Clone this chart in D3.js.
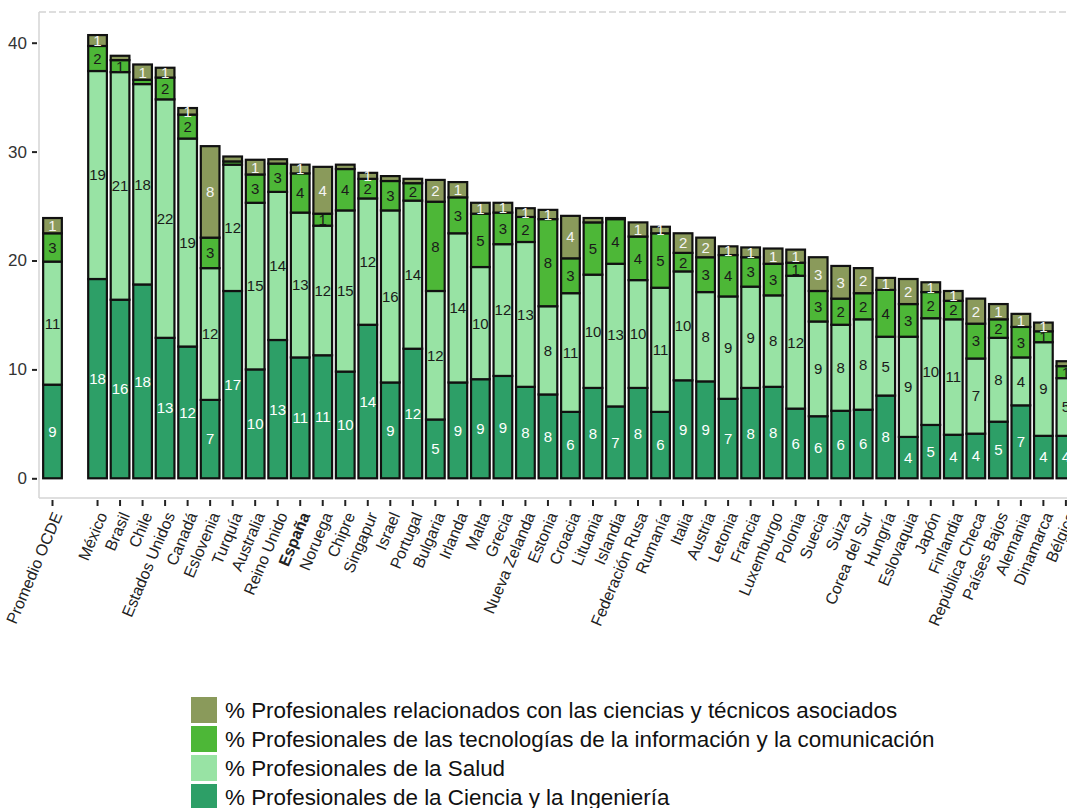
<!DOCTYPE html>
<html><head><meta charset="utf-8">
<script src="https://cdn.jsdelivr.net/npm/d3@7"></script>
<style>
body{margin:0;background:#fff}
svg{display:block}
text{font-family:"Liberation Sans",Arial,Helvetica,sans-serif}
</style>
</head><body>
<svg id="chart" width="1067" height="808"></svg>
<script>
const countries = ["Promedio OCDE","México","Brasil","Chile","Estados Unidos","Canadá","Eslovenia","Turquía","Australia","Reino Unido","España","Noruega","Chipre","Singapur","Israel","Portugal","Bulgaria","Irlanda","Malta","Grecia","Nueva Zelanda","Estonia","Croacia","Lituania","Islandia","Federación Rusa","Rumanía","Italia","Austria","Letonia","Francia","Luxemburgo","Polonia","Suecia","Suiza","Corea del Sur","Hungría","Eslovaquia","Japón","Finlandia","República Checa","Países Bajos","Alemania","Dinamarca","Bélgica"];
const ciencia = [8.6,18.3,16.4,17.8,12.9,12.1,7.2,17.2,10.0,12.7,11.1,11.3,9.8,14.1,8.8,11.9,5.4,8.8,9.1,9.4,8.4,7.7,6.1,8.3,6.6,8.3,6.1,9.0,8.9,7.3,8.3,8.4,6.4,5.7,6.2,6.3,7.6,3.8,4.9,4.0,4.1,5.2,6.7,3.9,3.9];
const salud = [11.3,19.1,20.9,18.4,21.9,19.1,12.1,11.6,15.3,13.6,13.3,11.9,14.8,11.6,15.8,13.6,11.8,13.7,10.3,12.1,13.3,8.1,10.9,10.4,13.1,9.9,11.4,10.0,8.2,9.4,9.3,8.4,12.2,8.7,7.9,8.3,5.4,9.2,9.8,10.6,6.9,7.7,4.4,8.6,5.3];
const tic = [2.6,2.3,1.1,0.4,2.0,2.2,2.8,0.3,2.6,2.6,3.6,1.1,3.8,1.8,2.7,1.6,8.2,3.3,4.9,2.9,2.3,8.0,3.2,4.8,4.1,4.0,5.0,1.7,3.2,3.8,2.7,2.9,1.2,2.8,2.4,2.4,4.3,3.0,2.4,1.7,3.2,1.7,2.8,1.0,1.1];
const relacionados = [1.4,1.0,0.4,1.4,0.9,0.6,8.4,0.45,1.35,0.4,0.8,4.3,0.4,0.55,0.45,0.4,2.0,1.4,1.0,0.9,0.8,0.85,3.9,0.4,0.1,1.3,0.6,1.8,1.8,0.8,0.9,1.4,1.2,3.1,3.0,2.3,1.1,2.3,0.9,0.9,2.3,1.4,1.2,0.8,0.45];
const seriesKeys = ["ciencia","salud","tic","relacionados"];
const seriesLabels = {
  relacionados: "% Profesionales relacionados con las ciencias y técnicos asociados",
  tic: "% Profesionales de las tecnologías de la información y la comunicación",
  salud: "% Profesionales de la Salud",
  ciencia: "% Profesionales de la Ciencia y la Ingeniería"
};
const legendOrder = ["relacionados","tic","salud","ciencia"];
const yTicks = [0,10,20,30,40];
const boldCountry = "España";

const colors = {ciencia:"#2d9f67", salud:"#98e3a4", tic:"#4db737", relacionados:"#8a9a5b"};
const labelColors = {ciencia:"#ffffff", salud:"#1a1a1a", tic:"#1a1a1a", relacionados:"#f4f4f4"};

const rows = countries.map((c,i)=>({country:c, ciencia:ciencia[i], salud:salud[i], tic:tic[i], relacionados:relacionados[i]}));
const gapKey = " ";
const slots = [countries[0], gapKey, ...countries.slice(1)];

const svg = d3.select("#chart");
const step = 22.52;
const x0 = 41.24;
const x = d3.scaleBand().domain(slots).range([x0, x0 + slots.length*step]).paddingInner(0.17).paddingOuter(0.085);
const y = d3.scaleLinear().domain([0,40]).range([478.3,42.7]);

// panel border
const panelL = 39, panelB = 498, panelT = 12;
svg.append("line").attr("x1",panelL).attr("x2",1067).attr("y1",panelT).attr("y2",panelT)
  .attr("stroke","#d4d4d4").attr("stroke-width",1.5).attr("stroke-dasharray","7,3");
svg.append("line").attr("x1",panelL).attr("x2",panelL).attr("y1",panelT).attr("y2",panelB)
  .attr("stroke","#d4d4d4").attr("stroke-width",1.5);
svg.append("line").attr("x1",panelL).attr("x2",1067).attr("y1",panelB).attr("y2",panelB)
  .attr("stroke","#d4d4d4").attr("stroke-width",1.5);

// y axis
const yAxis = svg.append("g").attr("transform","translate(37,0)")
  .call(d3.axisLeft(y).tickValues(yTicks).tickSize(5).tickPadding(5));
yAxis.select(".domain").remove();
yAxis.selectAll("line").attr("stroke","#222").attr("stroke-width",2);
yAxis.selectAll("text").attr("font-size",17).attr("fill","#333").style("font-family",'"Liberation Sans",Arial,sans-serif');

// x axis
const xAxis = svg.append("g").attr("transform",`translate(0,${panelB+2})`)
  .call(d3.axisBottom(x).tickValues(countries).tickSize(6).tickPadding(3));
xAxis.select(".domain").remove();
xAxis.selectAll("line").attr("stroke","#222").attr("stroke-width",2);
xAxis.selectAll("text")
  .attr("x",0).attr("y",0).attr("dy","0.35em")
  .attr("transform","translate(5,13) rotate(-67)")
  .style("text-anchor","end")
  .attr("font-size",16).attr("fill","#222")
  .style("font-family",'"Liberation Sans",Arial,sans-serif')
  .attr("font-weight",d=>d===boldCountry?"bold":"normal");

// stacked bars
const stack = d3.stack().keys(seriesKeys);
const stacked = stack(rows);
const bars = svg.append("g");
stacked.forEach(layer=>{
  const key = layer.key;
  const g = bars.append("g");
  g.selectAll("rect").data(layer).join("rect")
    .attr("x",d=>x(d.data.country))
    .attr("width",x.bandwidth())
    .attr("y",d=>y(d[1]))
    .attr("height",d=>y(d[0])-y(d[1]))
    .attr("fill",colors[key])
    .attr("stroke","#111").attr("stroke-width",2.2);
});
const labels = svg.append("g");
stacked.forEach(layer=>{
  const key = layer.key;
  labels.append("g").selectAll("text").data(layer.filter(d=>Math.round(d[1]-d[0])>=1)).join("text")
    .attr("x",d=>x(d.data.country)+x.bandwidth()/2)
    .attr("y",d=>y((d[0]+d[1])/2))
    .attr("dy","0.36em")
    .attr("text-anchor","middle")
    .attr("font-size",15)
    .attr("fill",labelColors[key])
    .text(d=>Math.round(d[1]-d[0]));
});

// legend
const lg = svg.append("g").attr("transform","translate(191,697)");
legendOrder.forEach((k,i)=>{
  const row = lg.append("g").attr("transform",`translate(0,${i*29})`);
  row.append("rect").attr("width",26).attr("height",26).attr("fill",colors[k]);
  row.append("text").attr("x",34).attr("y",13).attr("dy","0.36em")
    .attr("font-size",22.4).attr("fill","#111").text(seriesLabels[k]);
});
</script>
</body></html>
